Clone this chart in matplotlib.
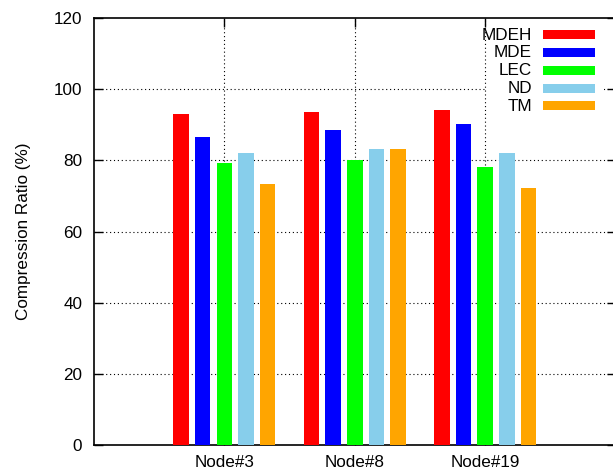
import matplotlib
matplotlib.use("Agg")
import matplotlib.pyplot as plt
from matplotlib.patches import Rectangle
import numpy as np

plt.rcParams['font.family'] = ['Liberation Sans', 'DejaVu Sans']

nodes = ["Node#3", "Node#8", "Node#19"]
methods = ["MDEH", "MDE", "LEC", "ND", "TM"]
colors = ["#ff0000", "#0000ff", "#00ff00", "#87ceeb", "#ffa500"]

mdeh = [93.0, 93.5, 94.2]
mde = [86.5, 88.4, 90.2]
lec = [79.2, 80.1, 78.1]
nd = [82.2, 83.2, 82.2]
tm = [73.3, 83.2, 72.1]
series = [mdeh, mde, lec, nd, tm]

yticks = [0, 20, 40, 60, 80, 100, 120]

W, H = 613, 469
fig = plt.figure(figsize=(W / 100, H / 100), dpi=100)
ax = fig.add_axes([94 / W, 1 - 445 / H, (615.5 - 94) / W, (445 - 18) / H])

x = np.arange(len(nodes))
step = 0.166
width = 0.119
for j, (name, vals, c) in enumerate(zip(methods, series, colors)):
    ax.bar(x + (j - 2) * step, vals, width, color=c, zorder=3, linewidth=0)

ax.set_xlim(-1, 3)
ax.set_ylim(0, 120)
ax.set_xticks(x)
ax.set_xticklabels(nodes)
ax.set_yticks(yticks)

fs = 12.3
ax.tick_params(axis='both', direction='in', length=6.5, width=1.0,
               labelsize=fs, top=True, right=True)
ax.tick_params(axis='y', pad=8.5)
ax.tick_params(axis='x', pad=7)
for s in ax.spines.values():
    s.set_linewidth(1.2)

grid_kw = dict(color='black', linewidth=0.8, linestyle=(0, (1, 2.5)))
for yv in yticks[1:-1]:
    ax.axhline(yv, zorder=1, **grid_kw)
for xv in x:
    ax.axvline(xv, zorder=2, **grid_kw)

ax.set_ylabel("Compression Ratio (%)", fontsize=fs)
ax.yaxis.set_label_coords(-(94 - 24) / (615.5 - 94) + 0.0, 0.5)
ax.yaxis.label.set_va('center')

# key: opaque background, text right-aligned, colour samples to the right
px = lambda xp, yp: (xp / W, 1 - yp / H)
bx0, by0 = px(487, 116)
bx1, by1 = px(604, 24)
fig.patches.append(Rectangle((bx0, by0), bx1 - bx0, by1 - by0,
                             transform=fig.transFigure, facecolor='white',
                             edgecolor='none', zorder=1.5))
row_y = [35, 52.7, 70.5, 88.3, 106]
for name, c, yy in zip(methods, colors, row_y):
    tx, ty = px(532, yy)
    fig.text(tx, ty, name, ha='right', va='center', fontsize=fs, zorder=5)
    sx0, sy0 = px(543, yy + 4.5)
    sx1, sy1 = px(595, yy - 4.5)
    fig.patches.append(Rectangle((sx0, sy0), sx1 - sx0, sy1 - sy0,
                                 transform=fig.transFigure, facecolor=c,
                                 edgecolor='none', zorder=5))

ax.set_zorder(0)
fig.savefig("out.png", dpi=100)
